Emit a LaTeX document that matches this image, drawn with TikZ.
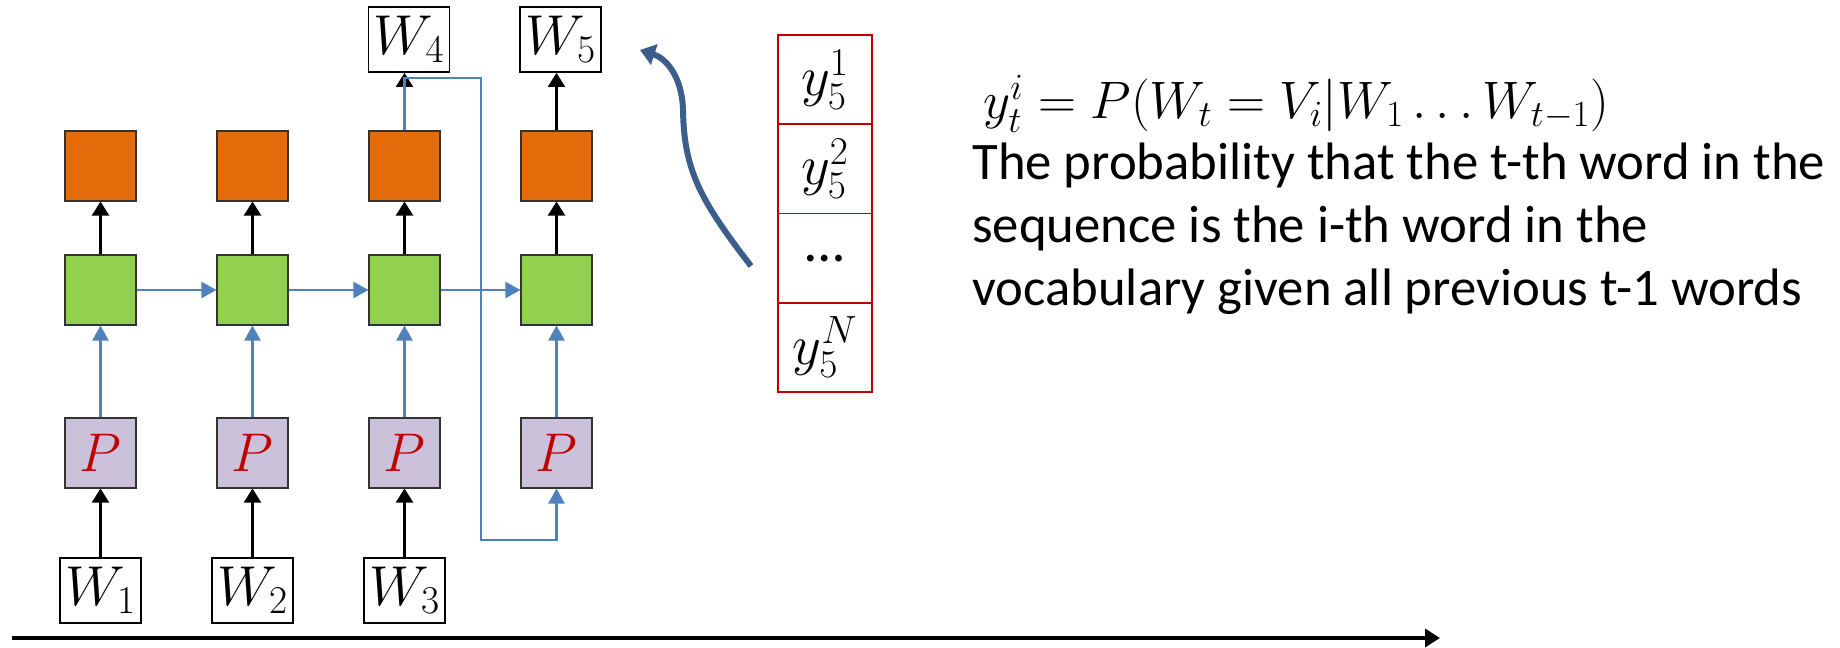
\RequirePackage{fix-cm}
\documentclass[tikz,border=0pt]{standalone}
\usepackage{fontspec}
\setmainfont{Carlito}
\usetikzlibrary{arrows.meta}
\definecolor{Orange}{HTML}{E46C0A}
\definecolor{Green}{HTML}{92D050}
\definecolor{Lilac}{HTML}{CCC1DA}
\definecolor{Blue}{HTML}{4F81BD}
\definecolor{Navy}{HTML}{3B5E8C}
\definecolor{Red}{HTML}{C00000}

\begin{document}
\begin{tikzpicture}[x=.02cm,y=-.02cm,
    cell/.style={draw=black!80,line width=.6pt,minimum width=1.42cm,minimum height=1.4cm,inner sep=0pt},
    word/.style={draw,line width=1pt,minimum width=1.62cm,minimum height=1.3cm,inner sep=0pt,font=\fontsize{32}{38}\selectfont},
    vec/.style={draw=Red,line width=1.1pt,minimum width=1.88cm,minimum height=1.785cm,inner sep=0pt,font=\fontsize{32}{38}\selectfont},
    blk/.style={-{Triangle[width=.34cm,length=.28cm]},line width=1.2pt},
    blu/.style={-{Triangle[width=.32cm,length=.3cm]},line width=1.3pt,Blue}]
        \useasboundingbox(0,0)rectangle(1840,648);
        \foreach\i in{1,...,4}{
          \node[cell,fill=Orange](o\i)at({100.5+152*(\i-1)},166){};
          \node[cell,fill=Green](g\i)at({100.5+152*(\i-1)},290){};
          \node[cell,fill=Lilac,text=Red,font=\fontsize{31}{37}\selectfont](p\i)at({100.5+152*(\i-1)},453){$P$};
          \draw[blk](g\i)--(o\i);
          \draw[blu](p\i)--(g\i);}
        \draw[blu](g1)--(g2);
        \draw[blu](g2)--(g3);
        \draw[blu](g3)--(g4);
        \node[word](w1)at(100.5,590.5){$W_1$};
        \node[word](w2)at(252.5,590.5){$W_2$};
        \node[word](w3)at(404.5,590.5){$W_3$};
        \node[word](w4)at(409,39.5){$W_4$};
        \node[word](w5)at(560.5,39.5){$W_5$};
        \draw[blk](w1)--(p1);
        \draw[blk](w2)--(p2);
        \draw[blk](w3)--(p3);
        \draw[blk](o4.north)--(o4.north|-w5.south);
        \draw[blk](o3.north)--(o3.north|-w4.south);
        % feedback of the predicted word
        \coordinate(turnA)at(481,78);
        \coordinate(turnB)at(481,540);
        \draw[blu](o3.north)|-(turnA)--(turnB)-|(p4.south);
        % output distribution
        \node[vec](y1)at(825,79.6){$y_5^1$};
        \node[vec](y2)at(825,168.9){$y_5^2$};
        \node[vec](y3)at(825,258.1){\ldots};
        \node[vec](y4)at(825,347.4){$y_5^N$};
        \coordinate(ctail)at(751,266);
        \coordinate(chead)at(640,50);
        \draw[Navy,line width=3.4pt,-{Triangle[width=.42cm,length=.3cm]}](ctail)..controls(700,200)and(684,170)..(683,110)..controls(682,75)and(665,58)..(chead);
        \node[anchor=base west,font=\fontsize{30}{36}\selectfont](eq)at(977,119){$y_t^i=P(W_t=V_i|W_1\ldots W_{t-1})$};
        \node[anchor=north west,align=left,inner sep=0pt,font=\fontsize{30}{35.8}\selectfont](desc)at(972,143){The probability that the t-th word in the\\sequence is the i-th word in the\\vocabulary given all previous t-1 words};
        \coordinate(axA)at(12,638);
        \coordinate(axB)at(1440,638);
        \draw[line width=2.3pt,-{Triangle[width=.36cm,length=.3cm]}](axA)--(axB);
      \end{tikzpicture}
\end{document}
